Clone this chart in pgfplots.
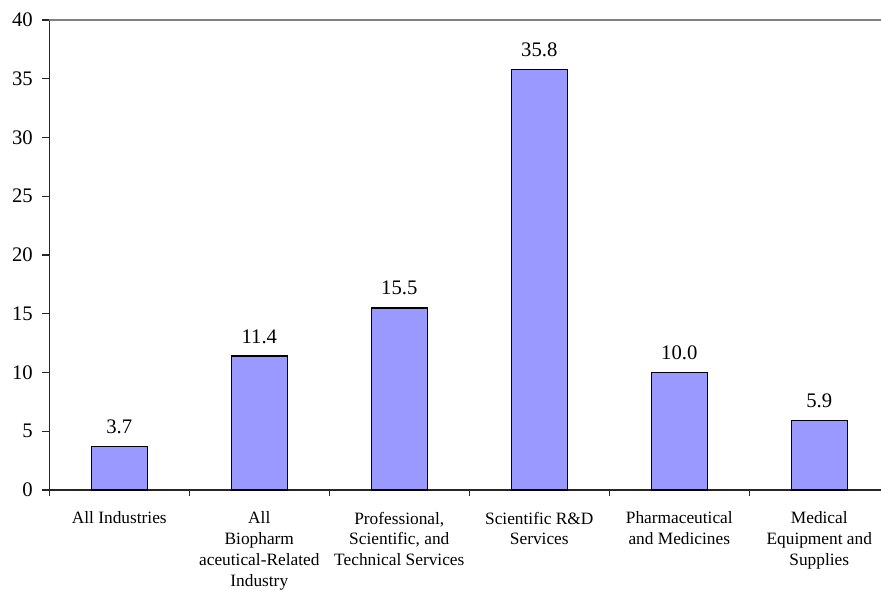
\documentclass[border=0pt]{standalone}
\usepackage{fontspec}
\setmainfont{Liberation Serif}
\usepackage{pgfplots}
\pgfplotsset{compat=1.18}
\definecolor{barblue}{HTML}{9999FF}
\definecolor{topline}{HTML}{808080}
\begin{document}
\begin{tikzpicture}
\begin{axis}[
  scale only axis,
  width=630pt, height=352.5pt,
  xmin=-0.5, xmax=5.5,
  ymin=0, ymax=40,
  axis x line*=bottom, axis y line*=left,
  axis line style={line width=1pt, black!85},
  ybar, bar width=42pt,
  ytick={0,5,...,40},
  xtick={0,...,5},
  minor xtick={-0.5,0.5,...,5.5},
  tick align=outside,
  major tick length=5.25pt,
  minor tick length=4.5pt,
  tick style={black!85, line width=0.8pt},
  every major x tick/.append style={draw=none},
  /pgf/number format/assume math mode=true,
  yticklabel style={font=\fontsize{15.5}{18}\selectfont, inner sep=0pt, anchor=east, xshift=-7pt},
  xticklabels={
    {All Industries},
    {All\\Biopharm\\aceutical-Related\\Industry},
    {Professional,\\Scientific, and\\Technical Services},
    {Scientific R\&D\\Services},
    {Pharmaceutical\\and Medicines},
    {Medical\\Equipment and\\Supplies}},
  xticklabel style={font=\fontsize{13}{15.6}\selectfont, align=center, inner sep=0pt, anchor=north, yshift=-11pt},
  nodes near coords={\pgfmathprintnumber[fixed,fixed zerofill,precision=1]{\pgfplotspointmeta}},
  every node near coord/.append style={font=\fontsize{15.5}{18}\selectfont, anchor=south, inner sep=0pt, yshift=9pt},
  clip=false,
]
\addplot[fill=barblue, draw=black, line width=1pt] coordinates {
  (0,3.7) (1,11.4) (2,15.5) (3,35.8) (4,10.0) (5,5.9)
};
\draw[topline, line width=1pt] (rel axis cs:0,1) -- (rel axis cs:1,1);
\coordinate (o) at (rel axis cs:0,0);
\end{axis}
\pgfresetboundingbox
\path[use as bounding box] (o) ++(-36.975pt,-74.25pt) rectangle ++(660.75pt,441.75pt);
\end{tikzpicture}
\end{document}
